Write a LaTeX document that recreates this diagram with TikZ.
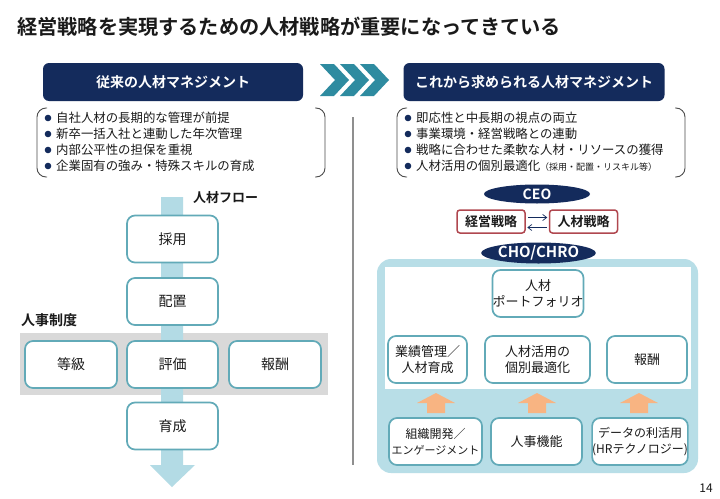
\documentclass[tikz,border=0pt]{standalone}
\usepackage{fontspec}
\setmainfont{Noto Sans CJK JP}[BoldFont={Noto Sans CJK JP Bold}]
\usetikzlibrary{arrows.meta,shapes.geometric}

\definecolor{hrnavy}{HTML}{142B5C}
\definecolor{hrchev}{HTML}{2E8BA0}
\definecolor{hrframe}{HTML}{62AAB8}
\definecolor{hrflow}{HTML}{B3DBE5}
\definecolor{hrband}{HTML}{D9D9D9}
\definecolor{hrrose}{HTML}{B0474F}
\definecolor{hrorange}{HTML}{F8B482}
\definecolor{hrpanel}{HTML}{B8DEE7}
\definecolor{hrdiv}{HTML}{8F8F8F}
\definecolor{hrtext}{HTML}{1A1A1A}

\newcommand{\fsz}[2]{\fontsize{#1}{#2}\selectfont}

\begin{document}
\begin{tikzpicture}[x=1pt,y=-1pt,
  every node/.style={text=hrtext},
  header/.style={fill=hrnavy, rounded corners=6pt, text=white,
    font=\bfseries\fsz{14}{17}, inner sep=0pt},
  bracket/.style={draw=black!70, line width=0.9pt, rounded corners=9pt},
  bullettext/.style={anchor=west, inner sep=0pt, font=\fsz{12.4}{15}},
  flowbox/.style={draw=hrframe, line width=1.7pt, fill=white,
    rounded corners=8pt, minimum width=91pt, minimum height=47pt,
    inner sep=0pt, font=\fsz{14}{17}},
  panelbox/.style={draw=hrframe, line width=1.7pt, fill=white,
    rounded corners=8pt, minimum height=47pt, inner sep=0pt,
    align=center, font=\fsz{13}{16}},
  oval/.style={ellipse, fill=hrnavy, inner sep=0pt, text=white,
    font=\bfseries\fsz{14}{17}},
  stratbox/.style={draw=hrrose, line width=1.5pt, fill=white,
    rounded corners=3pt, minimum width=68pt, minimum height=23pt,
    inner sep=0pt, font=\bfseries\fsz{13}{16}},
  thinarrow/.style={draw=hrnavy, line width=0.7pt,
    -{Straight Barb[length=4pt,width=6pt]}, shorten <=2pt, shorten >=1.5pt},
  uparrow/.style={fill=hrorange}
]
\fill[white] (0,0) rectangle (720,498);
\useasboundingbox (0,0) rectangle (720,498);

% heading
\node[anchor=west, inner sep=0pt, font=\bfseries\fsz{20.2}{24}] (title)
  at (17,27) {経営戦略を実現するための人材戦略が重要になってきている};

% column headers and the chevrons between them
\node[header, minimum width=260pt, minimum height=38pt] (oldhead) at (173,82)
  {従来の人材マネジメント};
\node[header, minimum width=261pt, minimum height=38pt] (newhead) at (534,82)
  {これから求められる人材マネジメント};
\foreach \ox in {320,340,360}
  \fill[hrchev] (\ox,64) -- (\ox+14,64) -- (\ox+29,80) -- (\ox+14,96)
    -- (\ox,96) -- (\ox+15,80) -- cycle;

% bracketed bullet lists
\draw[bracket] (47,108) -- (37,108) -- (37,177) -- (47,177);
\draw[bracket] (315,108) -- (325,108) -- (325,177) -- (315,177);
\draw[bracket] (407,108) -- (397,108) -- (397,177) -- (407,177);
\draw[bracket] (675,108) -- (685,108) -- (685,177) -- (675,177);

\foreach \y in {118,134,150,166} {
  \fill[hrnavy] (48,\y) circle (3.3);
  \fill[hrnavy] (408,\y) circle (3.3);
}
\node[bullettext] (old1) at (56,118) {自社人材の長期的な管理が前提};
\node[bullettext] (old2) at (56,134) {新卒一括入社と連動した年次管理};
\node[bullettext] (old3) at (56,150) {内部公平性の担保を重視};
\node[bullettext] (old4) at (56,166) {企業固有の強み・特殊スキルの育成};
\node[bullettext] (new1) at (416,118) {即応性と中長期の視点の両立};
\node[bullettext] (new2) at (416,134) {事業環境・経営戦略との連動};
\node[bullettext] (new3) at (416,150) {戦略に合わせた柔軟な人材・リソースの獲得};
\node[bullettext] (new4) at (416,166) {人材活用の個別最適化{\fsz{9}{10}（採用・配置・リスキル等）}};

% divider between the two columns
\draw[hrdiv, line width=1.4pt] (353,117) -- (353,465);

% left column: HR system band and talent flow
\fill[hrband] (20,333) rectangle (328,395);
\fill[hrflow] (161,197) -- (183,197) -- (183,465) -- (195,465) -- (172,487)
  -- (150,465) -- (161,465) -- cycle;
\node[anchor=west, inner sep=0pt, font=\bfseries\fsz{13}{15}] (flowlbl)
  at (193,198) {人材フロー};
\node[anchor=west, inner sep=0pt, font=\bfseries\fsz{14}{16}] (syslbl)
  at (21,320) {人事制度};

\node[flowbox] (recruit) at (172.5,239) {採用};
\node[flowbox] (assign)  at (172.5,301.5) {配置};
\node[flowbox, minimum width=92pt] (grade) at (71,364.5) {等級};
\node[flowbox] (evaluate) at (172.5,364.5) {評価};
\node[flowbox, minimum width=92pt] (reward) at (275,364.5) {報酬};
\node[flowbox] (develop) at (172.5,426) {育成};

% right column: leadership
\fill[hrpanel, rounded corners=14pt] (377,259) rectangle (698,473);
\fill[white] (385,267) rectangle (691,389);

\node[oval, minimum width=106pt, minimum height=19pt] (ceo) at (537,194) {CEO};
\node[stratbox] (mgmt) at (491,221.5) {経営戦略};
\node[stratbox] (hrstr) at (583.5,221.5) {人材戦略};
\draw[thinarrow] ([yshift=4pt]mgmt.east) -- ([yshift=4pt]hrstr.west);
\draw[thinarrow] ([yshift=-6pt]hrstr.west) -- ([yshift=-6pt]mgmt.east);
\node[oval, minimum width=107pt, minimum height=21pt, font=\bfseries\fsz{15}{17}]
  (chro) at (538.5,253) {CHO/CHRO};

% right column: HR functions
\node[panelbox, minimum width=90pt] (portfolio) at (538,293.5)
  {人材\\ポートフォリオ};
\node[panelbox, minimum width=79pt] (perf) at (427.5,359.5)
  {業績管理／\\人材育成};
\node[panelbox, minimum width=105pt] (optim) at (537.5,359.5)
  {人材活用の\\個別最適化};
\node[panelbox, minimum width=80pt] (pay) at (647,359.5) {報酬};
\node[panelbox, minimum width=93pt, font=\fsz{12}{16}] (orgdev) at (435.5,441.5)
  {組織開発／\\{\fsz{11}{16}エンゲージメント}};
\node[panelbox, minimum width=91pt] (hrfunc) at (536.5,441.5) {人事機能};
\node[panelbox, minimum width=94pt, font=\fsz{12}{16}] (hrtech) at (640,441.5)
  {データの利活用\\(HRテクノロジー)};

\foreach \cx in {436,537,639}
  \fill[uparrow] (\cx-19,403) -- (\cx,393) -- (\cx+19,403) -- (\cx+9,403)
    -- (\cx+9,413) -- (\cx-9,413) -- (\cx-9,403) -- cycle;

% page number
\node[inner sep=0pt, font=\fsz{12}{14}] (page) at (706,488) {14};
\end{tikzpicture}
\end{document}
